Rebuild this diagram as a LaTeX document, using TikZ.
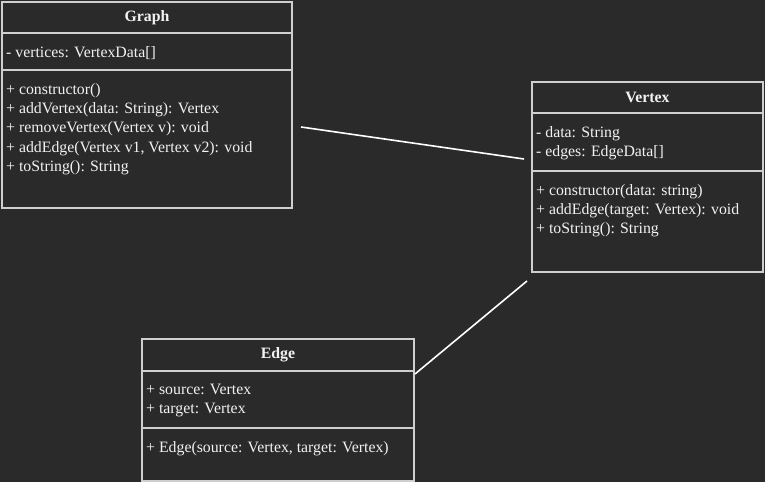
\documentclass[tikz,border=0pt]{standalone}
\usepackage{fontspec}
\setmainfont{Liberation Serif}
\usetikzlibrary{positioning}
\definecolor{bgdark}{HTML}{2A2A2A}
\definecolor{boxline}{HTML}{CFCFCF}
\definecolor{umltext}{HTML}{F2F2F2}
\tikzset{
  compart/.style={draw=boxline, line width=1.6bp, anchor=north west, inner sep=0pt, outer sep=0pt, text=umltext, font=\fontsize{15.8bp}{19.4bp}\selectfont\bfseries},
  members/.style={anchor=north west, align=left, inner sep=0pt, text=umltext, font=\fontsize{15.8bp}{19.4bp}\selectfont},
  assoc/.style={draw=white, line width=1.6bp}
}
\begin{document}
\begin{tikzpicture}[x=1bp,y=-1bp]
  \fill[bgdark] (0,0) rectangle (765,482);
  \useasboundingbox (0,0) rectangle (765,482);

  \node[compart, minimum width=290bp, minimum height=31bp] (graphtitle) at (2,2) {Graph};
  \node[compart, minimum width=290bp, minimum height=37bp, below=0pt of graphtitle] (graphattr) {};
  \node[compart, minimum width=290bp, minimum height=138bp, below=0pt of graphattr] (graphops) {};
  \node[members] (graphattrtxt) at ([xshift=4bp,yshift=-13bp]graphattr.north west) {- vertices: VertexData[]};
  \node[members] (graphopstxt) at ([xshift=4bp,yshift=-13bp]graphops.north west) {+ constructor()\\+ addVertex(data: String): Vertex\\+ removeVertex(Vertex v): void\\+ addEdge(Vertex v1, Vertex v2): void\\+ toString(): String};

  \node[compart, minimum width=231bp, minimum height=31bp] (vertextitle) at (532,82) {Vertex};
  \node[compart, minimum width=231bp, minimum height=58bp, below=0pt of vertextitle] (vertexattr) {};
  \node[compart, minimum width=231bp, minimum height=101bp, below=0pt of vertexattr] (vertexops) {};
  \node[members] (vertexattrtxt) at ([xshift=4bp,yshift=-13bp]vertexattr.north west) {- data: String\\- edges: EdgeData[]};
  \node[members] (vertexopstxt) at ([xshift=4bp,yshift=-13bp]vertexops.north west) {+ constructor(data: string)\\+ addEdge(target: Vertex): void\\+ toString(): String};

  \node[compart, minimum width=272bp, minimum height=32bp] (edgetitle) at (142,339) {Edge};
  \node[compart, minimum width=272bp, minimum height=57bp, below=0pt of edgetitle] (edgeattr) {};
  \node[compart, minimum width=272bp, minimum height=53bp, below=0pt of edgeattr] (edgeops) {};
  \node[members] (edgeattrtxt) at ([xshift=4bp,yshift=-13bp]edgeattr.north west) {+ source: Vertex\\+ target: Vertex};
  \node[members] (edgeopstxt) at ([xshift=4bp,yshift=-13bp]edgeops.north west) {+ Edge(source: Vertex, target: Vertex)};

  \coordinate (graphend) at (301,127);
  \coordinate (vertexend1) at (524,159);
  \coordinate (vertexend2) at (527,281);
  \coordinate (edgeend) at (415,374);
  \draw[assoc] (graphend) -- (vertexend1);
  \draw[assoc] (vertexend2) -- (edgeend);
\end{tikzpicture}
\end{document}
